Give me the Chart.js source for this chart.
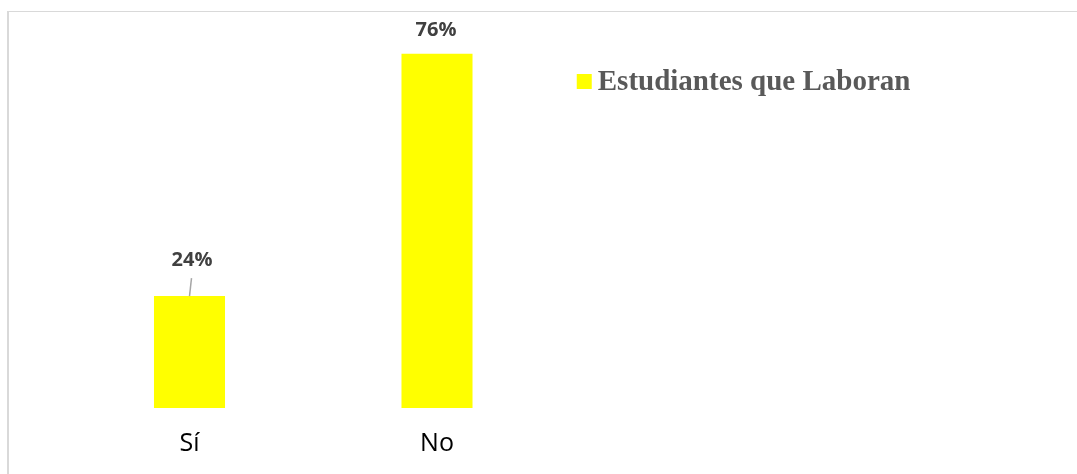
<!DOCTYPE html>
<html>
<head>
<meta charset="utf-8">
<script src="https://cdn.jsdelivr.net/npm/chart.js@4/dist/chart.umd.min.js"></script>
<style>
    body { margin: 0; background: #fff; }
    #frame {
        position: absolute; left: 7px; top: 11px; width: 1070px; height: 463px;
        border-top: 1px solid #d9d9d9; border-left: 2px solid #d9d9d9; box-sizing: border-box;
    }
    #wrap { position: absolute; left: 0; top: 0; width: 1077px; height: 474px; }
</style>
</head>
<body>
<div id="frame"></div>
<div id="wrap"><canvas id="laboranChart"></canvas></div>
<script>
// Datos de la encuesta
const categorias = ["Sí", "No"];
const porcentajes = [24, 76];
const serieNombre = "Estudiantes que Laboran";

// Desplazamiento de cada etiqueta respecto a la parte superior de la barra
const etiquetaDx = [2.5, -1];
const etiquetaDy = [36, 23];

// Etiquetas de porcentaje sobre las barras (con línea guía cuando está separada)
const etiquetasPlugin = {
    id: "etiquetas",
    afterDatasetsDraw(chart) {
        const ctx = chart.ctx;
        const meta = chart.getDatasetMeta(0);
        ctx.save();
        meta.data.forEach((bar, i) => {
            const x = bar.x + etiquetaDx[i];
            const y = bar.y - etiquetaDy[i];
            if (etiquetaDy[i] > 30) {
                ctx.strokeStyle = "#a6a6a6";
                ctx.lineWidth = 1.5;
                ctx.beginPath();
                ctx.moveTo(bar.x, bar.y);
                ctx.lineTo(bar.x + 2, y + 18);
                ctx.stroke();
            }
            ctx.fillStyle = "#404040";
            ctx.font = "bold 20px 'Open Sans'";
            ctx.textAlign = "center";
            ctx.textBaseline = "middle";
            ctx.fillText(porcentajes[i] + "%", x, y);
        });
        ctx.restore();
    }
};

// Leyenda a la derecha del área del gráfico
const leyendaPlugin = {
    id: "leyenda",
    afterDraw(chart) {
        const ctx = chart.ctx;
        const ds = chart.data.datasets[0];
        const x = chart.chartArea.right + 16;
        const y = 74;
        ctx.save();
        ctx.fillStyle = ds.backgroundColor;
        ctx.fillRect(x, y, 15, 15);
        ctx.fillStyle = "#595959";
        ctx.font = "bold 29px 'Liberation Serif'";
        ctx.textAlign = "left";
        ctx.textBaseline = "middle";
        ctx.fillText(ds.label, x + 21, y + 9);
        ctx.restore();
    }
};

new Chart(document.getElementById("laboranChart"), {
    type: "bar",
    data: {
        labels: categorias,
        datasets: [{
            label: serieNombre,
            data: porcentajes,
            backgroundColor: "#ffff00",
            borderWidth: 0,
            categoryPercentage: 1,
            barPercentage: 0.287
        }]
    },
    options: {
        responsive: true,
        maintainAspectRatio: false,
        animation: false,
        layout: {
            padding: { left: 65.75, top: 35, right: 516.25, bottom: -6 }
        },
        plugins: {
            legend: { display: false },
            tooltip: { enabled: false }
        },
        scales: {
            x: {
                grid: { display: false, drawTicks: false },
                border: { display: false },
                ticks: {
                    color: "#000000",
                    padding: 21,
                    font: { family: "'Open Sans'", size: 25 }
                }
            },
            y: {
                display: false,
                min: 0,
                max: 80
            }
        }
    },
    plugins: [etiquetasPlugin, leyendaPlugin]
});
</script>
</body>
</html>
